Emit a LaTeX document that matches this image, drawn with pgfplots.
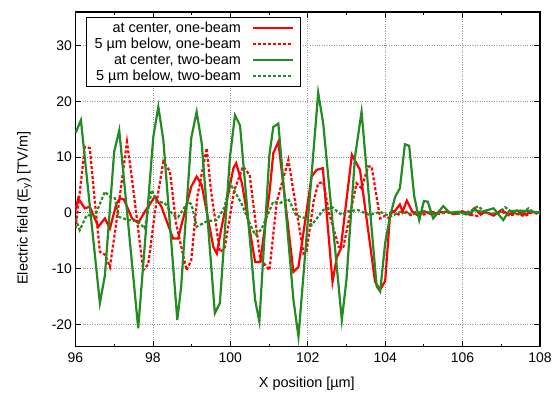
\documentclass[border=0pt]{standalone}
\usepackage{fontspec}
\setmainfont{Liberation Sans}
\usepackage{pgfplots}
\pgfplotsset{compat=1.18}
\definecolor{fgreen}{RGB}{34,139,34}
\begin{document}
\begin{tikzpicture}
\begin{axis}[
  width=464.5bp, height=334.7bp, scale only axis,
  xmin=96, xmax=108, ymin=-24, ymax=36,
  xtick={96,98,...,108}, minor xtick={97,99,...,107},
  ytick={-20,-10,...,30},
  grid=major, grid style={gray!80, dotted, line width=0.7bp},
  tick align=inside, major tick length=6bp, minor tick length=3bp,
  tick style={black, line width=0.8bp},
  axis line style={line width=1.3bp},
  /pgf/number format/assume math mode=true,
  ticklabel style={font=\fontsize{14}{16}\selectfont},
  xticklabel style={yshift=-3bp},
  xlabel={X position [µm]}, ylabel={Electric field ($\mathrm{E}_{\mathrm{y}}$) [TV/m]},
  label style={font=\fontsize{14.5}{16}\selectfont},
  xlabel style={at={(rel axis cs:0.498,0)}, anchor=center, yshift=-37bp},
  ylabel style={at={(rel axis cs:-0.11,0.414)}, anchor=center},
  legend plot pos=right,
  legend cell align=right,
  legend image code/.code={\draw[#1] (0bp,0bp) -- (40bp,0bp);},
  legend style={at={(rel axis cs:0,1)}, anchor=north west, xshift=10.5bp, yshift=-5bp,
    draw=black, line width=1.2bp, font=\fontsize{14.5}{17}\selectfont,
    row sep=0bp, inner ysep=2.5bp, inner xsep=6bp},
]
\addplot[red, line width=2.2bp] coordinates {
(96.0,0.5) (96.07,2.6) (96.24,0.8) (96.37,1.1) (96.59,-2.5) (96.76,-1) (96.89,-2.8) (97.06,1.7) (97.15,2.6) (97.25,2.4) (97.46,-1) (97.62,-1.8) (97.8,0.3) (98.05,2.9) (98.22,1.1) (98.52,-4.6) (98.65,-4.6) (98.99,4.7) (99.13,6.5) (99.26,5) (99.56,-6.1) (99.65,-7.3) (99.76,-3.1) (100.08,8.0) (100.15,8.9) (100.3,5.3) (100.64,-8.8) (100.77,-8.8) (101.01,3.5) (101.11,10.7) (101.24,12.7) (101.63,-10.6) (101.76,-9.7) (102.1,6.5) (102.23,7.7) (102.39,8) (102.64,-12.4) (102.75,-8) (102.85,-6.5) (103.14,10.4) (103.35,7.7) (103.74,-12.4) (103.87,-13.8) (104.0,-12.2) (104.13,0) (104.25,0.3) (104.38,1.5) (104.45,0.2) (104.56,2.2) (104.7,0.2) (104.85,-0.5) (105.0,0.3) (105.2,-0.3) (105.4,0.1) (105.6,0.2) (105.8,-0.2) (106.0,0.3) (106.2,-0.4) (106.3,0.8) (106.45,-0.2) (106.6,0.1) (106.8,-0.5) (107.0,0.5) (107.2,-0.3) (107.4,0.4) (107.6,-0.3) (107.8,0.2) (108,0)
};
\addlegendentry{at center, one-beam\rule{9bp}{0pt}}
\addplot[red, line width=2.2bp, dash pattern=on 3bp off 2bp] coordinates {
(96.0,-2.8) (96.1,3) (96.24,11.8) (96.37,11.6) (96.5,2) (96.63,-7.0) (96.76,-7.5) (96.89,-9.7) (97.05,-2) (97.2,5.9) (97.33,12.7) (97.46,6) (97.75,-10.3) (97.88,-9.2) (98.05,0) (98.27,9.2) (98.44,7.4) (98.6,-2) (98.87,-10.3) (98.99,-8.5) (99.15,3) (99.39,11.6) (99.5,4) (99.73,-7.0) (99.85,-6.5) (100.1,4) (100.33,8.3) (100.5,6.8) (100.77,-8.2) (101.01,-10.3) (101.2,2) (101.5,9.5) (101.65,3) (101.89,-7.3) (101.97,-6.9) (102.15,2) (102.27,5.3) (102.4,5.5) (102.55,0) (102.8,-6.1) (102.92,-6.1) (103.1,0) (103.26,5.3) (103.39,4.4) (103.56,8.3) (103.65,8.3) (103.87,-1) (104.0,-0.5) (104.1,-1.0) (104.2,0.3) (104.35,-0.3) (104.5,0.4) (104.65,-0.4) (104.8,0.2) (105.0,-0.3) (105.2,0.2) (105.4,-0.2) (105.6,0.1) (105.8,-0.3) (106.0,0.2) (106.2,-0.3) (106.4,-0.6) (106.6,0.2) (106.8,-0.4) (107.0,0.3) (107.2,-0.5) (107.4,-0.2) (107.6,-0.6) (107.8,0.1) (108,-0.3)
};
\addlegendentry{5 µm below, one-beam\rule{9bp}{0pt}}
\addplot[fgreen, line width=2.2bp] coordinates {
(96.0,14.3) (96.14,16.6) (96.63,-16.2) (96.76,-11.2) (97.0,11) (97.13,14.8) (97.62,-20.7) (98.01,13.6) (98.14,19.0) (98.27,13) (98.63,-19.2) (98.73,-13.2) (98.99,13.4) (99.13,18.1) (99.26,12.5) (99.60,-18) (99.73,-16.2) (99.99,10) (100.12,17.5) (100.25,15.7) (100.64,-15.6) (100.75,-19.5) (101.01,10.4) (101.11,15.4) (101.24,16) (101.63,-15.6) (101.76,-22.2) (102.27,21.5) (102.40,16) (102.88,-19.2) (103.0,-12) (103.22,10) (103.39,18.1) (103.78,-13.2) (103.87,-14.1) (104.0,-5.4) (104.13,-0.5) (104.26,2.9) (104.38,4.4) (104.51,12.3) (104.62,12.0) (104.75,3) (104.88,-1.3) (105.0,2.1) (105.1,2) (105.24,-1) (105.5,1.2) (105.67,0) (105.9,0.2) (106.1,-0.3) (106.3,0.5) (106.5,0.2) (106.8,0.8) (107.05,-1.3) (107.2,0.3) (107.5,0.4) (107.7,0.3) (108,0)
};
\addlegendentry{at center, two-beam\rule{9bp}{0pt}}
\addplot[fgreen, line width=2.2bp, dash pattern=on 3bp off 2bp] coordinates {
(96.0,-1) (96.11,-3.1) (96.29,-0.4) (96.5,-0.6) (96.76,3.8) (96.9,2.8) (97.02,2.6) (97.11,-0.7) (97.36,-1.3) (97.6,-1.5) (97.79,-2.8) (97.97,4.1) (98.1,2) (98.3,1.8) (98.52,-0.4) (98.65,-0.8) (98.91,2) (99.0,1.5) (99.13,-2.5) (99.4,-1.5) (99.65,-1.3) (99.85,1) (99.99,5.3) (100.1,4) (100.3,1.5) (100.5,-1.9) (100.64,-4) (100.8,-3) (101.11,2) (101.3,1.8) (101.5,2.5) (101.7,-0.5) (101.97,-1) (102.1,-2.2) (102.4,0.5) (102.61,1.1) (102.88,-0.4) (103.05,0.3) (103.3,0.5) (103.6,-0.4) (103.87,0.2) (104.13,-0.7) (104.4,0.2) (104.7,-0.3) (105,0.3) (105.3,-0.2) (105.6,0.2) (105.9,-0.2) (106.2,0.3) (106.4,1.2) (106.6,0) (106.9,-0.2) (107.1,1) (107.3,0) (107.5,-0.3) (107.7,0.8) (107.85,0) (108,0.2)
};
\addlegendentry{5 µm below, two-beam\rule{9bp}{0pt}}
\end{axis}
\path ([shift={(-75.5bp,-47.3bp)}]current axis.south west) rectangle ([shift={(15bp,12bp)}]current axis.north east);
\end{tikzpicture}
\end{document}
